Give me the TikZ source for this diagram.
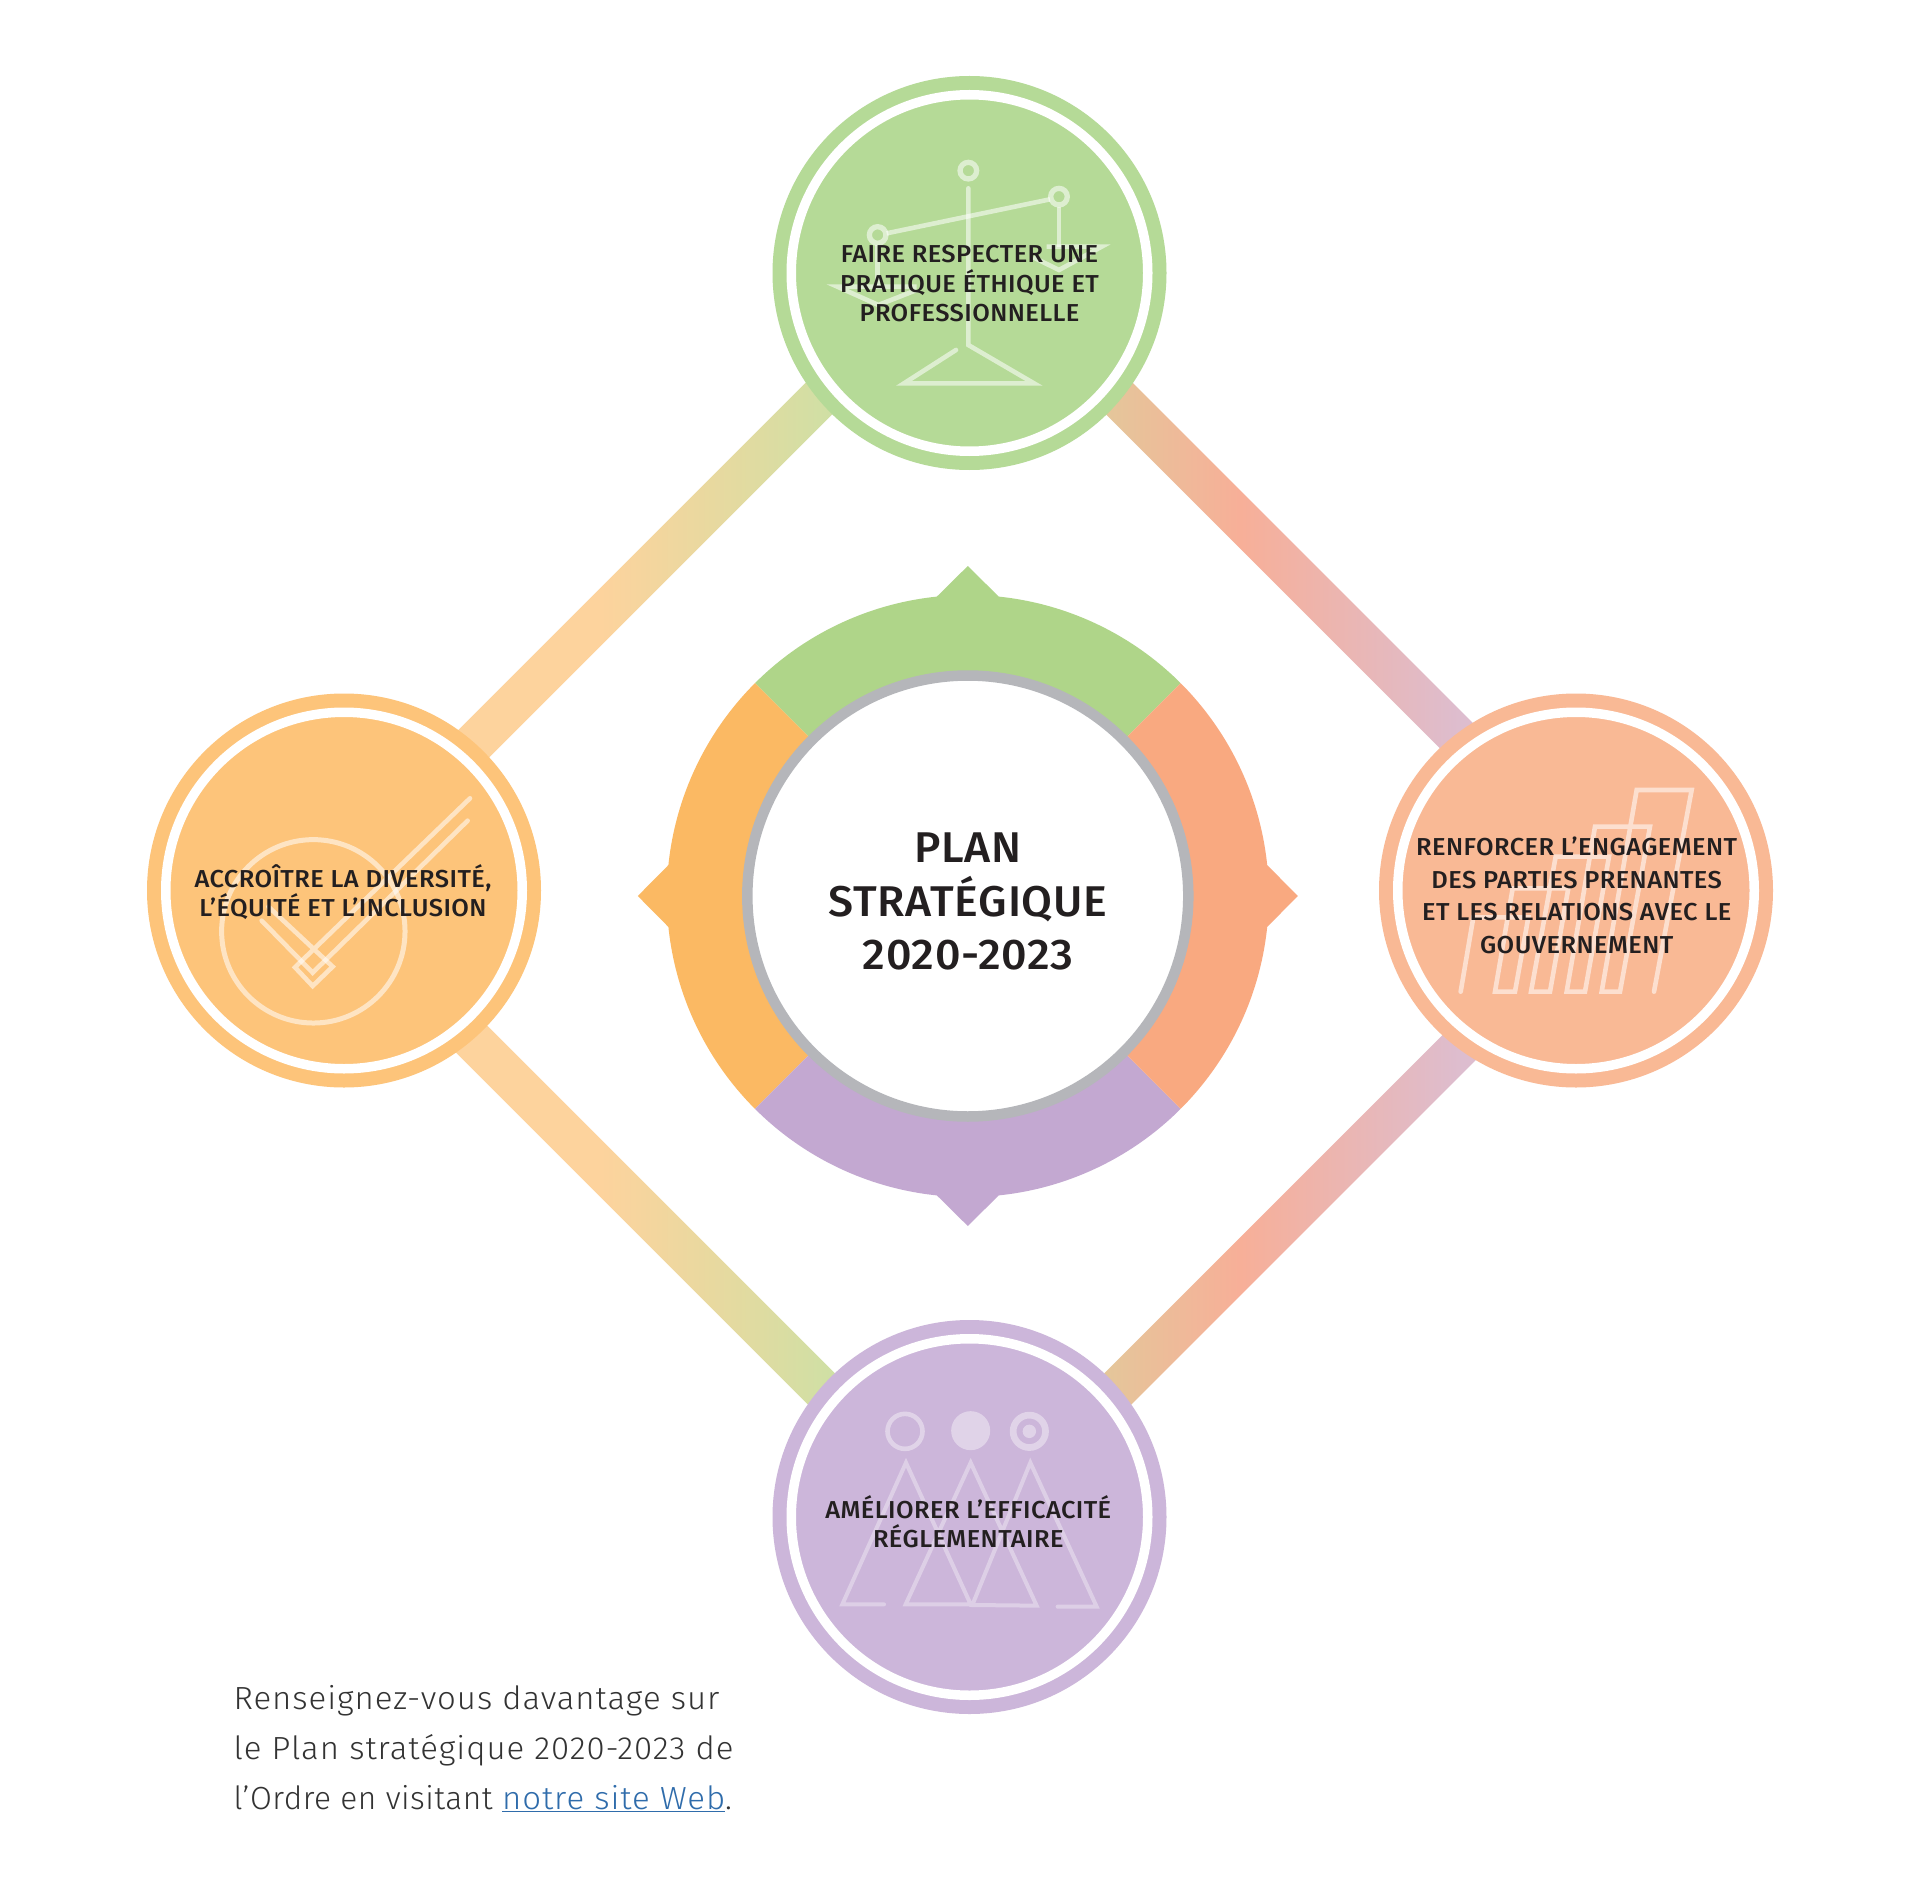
\documentclass[tikz,border=0pt]{standalone}
\usepackage{fontspec}
\setmainfont{Fira Sans}
\newfontfamily\labelf{Fira Sans Medium}[FakeStretch=1.04,LetterSpace=1.7]
\newfontfamily\lightf{Fira Sans Light}[LetterSpace=3,FakeStretch=1.03]
\newfontfamily\lighttight{Fira Sans Light}[LetterSpace=1.5,FakeStretch=0.99]
\usetikzlibrary{calc}
\definecolor{cGreen}{HTML}{B5DA97}\definecolor{cOrange}{HTML}{FDC47A}
\definecolor{cSalmon}{HTML}{F9B995}\definecolor{cPurple}{HTML}{CCB6DA}
\definecolor{sGreen}{HTML}{AFD589}\definecolor{sOrange}{HTML}{FBB963}
\definecolor{sSalmon}{HTML}{F9A980}\definecolor{sPurple}{HTML}{C3A8D1}
\definecolor{ringGrey}{HTML}{B5B6BA}\definecolor{ink}{HTML}{231F20}
\definecolor{linkBlue}{HTML}{2F6CAB}\definecolor{bodyInk}{HTML}{333333}
\pgfdeclarehorizontalshading{bandA}{100bp}{rgb(0bp)=(0.992,0.827,0.616);rgb(45bp)=(0.992,0.827,0.616);rgb(60bp)=(0.894,0.855,0.627);rgb(72bp)=(0.808,0.878,0.647);rgb(100bp)=(0.808,0.878,0.647)}
\pgfdeclarehorizontalshading{bandB}{100bp}{rgb(0bp)=(0.894,0.78,0.604);rgb(27bp)=(0.894,0.78,0.604);rgb(43bp)=(0.969,0.686,0.596);rgb(69bp)=(0.867,0.741,0.812);rgb(100bp)=(0.867,0.741,0.812)}
\tikzset{
  ringnode/.style={circle,inner sep=0pt,minimum size=356.5pt,draw=#1,fill=#1,double=white,double distance=9.5pt,line width=14pt},
  labeltext/.style={anchor=base,align=center,text=ink,inner sep=0pt,font=\labelf\fontsize{24.5}{29.5}\selectfont},
  icon/.style={draw=white,opacity=0.55,line width=#1,line join=miter,miter limit=12,fill=none},
  icon/.default=4.6pt,
  bandline/.style={shading=#1,draw=none},
}
\newcommand{\bandshape}[3]{%
  \path[bandline=#3] ($(#1)!20.6pt!90:(#2)$) -- ($(#1)!20.6pt!-90:(#2)$) -- ($(#2)!20.6pt!90:(#1)$) -- ($(#2)!20.6pt!-90:(#1)$) -- cycle;}
\newcommand{\ringsegment}[2]{%
  \fill[#1] ($(core)+(#2-45:301pt)$) arc[start angle=#2-45,end angle=#2-5.9,radius=301pt]
    -- ($(core)+(#2:330pt)$) -- ($(core)+(#2+5.9:301pt)$)
    arc[start angle=#2+5.9,end angle=#2+45,radius=301pt]
    -- ($(core)+(#2+45:219pt)$) arc[start angle=#2+45,end angle=#2-45,radius=219pt] -- cycle;}
\begin{document}
\begin{tikzpicture}[x=1pt,y=-1pt]
\useasboundingbox (0,0) rectangle (1920,1878);
\fill[white] (0,0) rectangle (1920,1878);
% anchors of the circles
\coordinate (pTop) at (969.5,273);
\coordinate (pLeft) at (344,890.5);
\coordinate (pRight) at (1576,890.5);
\coordinate (pBottom) at (969.5,1517);
\coordinate (ulA) at ($(pLeft)+(96,-113)$);
\coordinate (ulB) at ($(pTop)+(-119.5,94.5)$);
\coordinate (llA) at ($(pLeft)+(96,117)$);
\coordinate (llB) at ($(pBottom)+(-119.5,-99.5)$);
\coordinate (urA) at ($(pTop)+(130.5,106.2)$);
\coordinate (urB) at ($(pRight)+(-76,-111.3)$);
\coordinate (lrA) at ($(pBottom)+(130.5,-110.3)$);
\coordinate (lrB) at ($(pRight)+(-76,116.2)$);
% bands
\bandshape{ulA}{ulB}{bandA}
\bandshape{llA}{llB}{bandA}
\bandshape{urA}{urB}{bandB}
\bandshape{lrA}{lrB}{bandB}
% outer circles
\node[ringnode=cGreen] (top) at (pTop) {};
\node[ringnode=cOrange] (left) at (pLeft) {};
\node[ringnode=cSalmon] (right) at (pRight) {};
\node[ringnode=cPurple] (bottom) at (pBottom) {};
% central ring
\coordinate (core) at (967.8,896);
\ringsegment{sGreen}{90}
\ringsegment{sOrange}{180}
\ringsegment{sPurple}{270}
\ringsegment{sSalmon}{0}
\node[circle,inner sep=0pt,minimum size=441pt,draw=ringGrey,line width=10.5pt,fill=white] (coreDisc) at (core) {};
% scale icon
\begin{scope}[shift={(760,60)},x=0.33333pt,y=-0.33333pt]
\draw[icon=5.3pt] (625,332) circle[radius=8.3pt];
\draw[icon=5.3pt] (353,525) circle[radius=8.3pt];
\draw[icon=5.3pt] (897,410) circle[radius=8.3pt];
\draw[icon,line cap=round] (625,385) -- (625,855) -- (822,970) -- (432,970) -- (588,870);
\draw[icon] (380,520) -- (870,418);
\draw[icon] (897,440) -- (897,560);
\draw[icon] (353,555) -- (353,680);
\draw[icon] (860,560) -- (1025,560) -- (897,630) -- (820,592);
\draw[icon] (470,680) -- (232,680) -- (355,735) -- (470,690);
\end{scope}
% check icon
\begin{scope}[shift={(140,680)},x=0.33333pt,y=-0.33333pt]
\draw[icon=5pt] (520,754) circle[radius=91.7pt];
\draw[icon,line cap=round] (990,355) -- (465,862) -- (518,918) -- (578,860) -- (385,680);
\draw[icon,line cap=round] (365,722) -- (518,878) -- (983,422);
\end{scope}
% bars icon
\begin{scope}[shift={(1370,680)},x=0.33333pt,y=-0.33333pt]
\draw[icon,line cap=round] (272,935) -- (310,712) -- (475,712) -- (435,935) -- (375,935) -- (428,625) -- (595,625) -- (540,935) -- (483,935) -- (557,530) -- (717,530) -- (645,935) -- (590,935) -- (675,440) -- (840,440) -- (750,935) -- (695,935) -- (800,330) -- (965,330) -- (852,935);
\end{scope}
% people icon
\begin{scope}[shift={(760,1310)},x=0.33333pt,y=-0.33333pt]
\draw[icon,opacity=0.4] (435,364) circle[radius=17.5pt];
\fill[white,opacity=0.4] (632,362) circle[radius=19.5pt];
\draw[icon=6.7pt,opacity=0.4] (808,364) circle[radius=16.2pt];
\fill[white,opacity=0.4] (808,364) circle[radius=6.7pt];
\draw[icon=4pt,opacity=0.35,line cap=round] (372,883) -- (247,883) -- (438,458) -- (632,883) -- (437,883) -- (632,458) -- (830,887) -- (637,885) -- (811,458) -- (1010,890) -- (893,890);
\end{scope}
% labels
\node[labeltext] (ltop) at (969.5,321.7) {FAIRE RESPECTER UNE\\PRATIQUE ÉTHIQUE ET\\PROFESSIONNELLE};
\node[labeltext] (lleft) at (343,916.7) {ACCROÎTRE LA DIVERSITÉ,\\L’ÉQUITÉ ET L’INCLUSION};
\node[labeltext,font=\labelf\fontsize{24.5}{32.5}\selectfont] (lright) at (1576.7,953.3) {RENFORCER L’ENGAGEMENT\\DES PARTIES PRENANTES\\ET LES RELATIONS AVEC LE\\GOUVERNEMENT};
\node[labeltext] (lbottom) at (968.3,1547.7) {AMÉLIORER L’EFFICACITÉ\\RÉGLEMENTAIRE};
\node[labeltext,font=\labelf\fontsize{43}{53.5}\selectfont] (title) at (968,969.6) {PLAN\\STRATÉGIQUE\\2020-2023};
\node[anchor=base west,align=left,inner sep=0pt,text=bodyInk,font=\lightf\fontsize{32}{50.2}\selectfont] (note) at (233.5,1809.5) {Renseignez-vous davantage sur\\le Plan stratégique 2020-2023 de\\{\lighttight\fontsize{32}{50.2}\selectfont l’Ordre en visitant }\textcolor{linkBlue}{\underline{notre site Web}}.};
\end{tikzpicture}
\end{document}
